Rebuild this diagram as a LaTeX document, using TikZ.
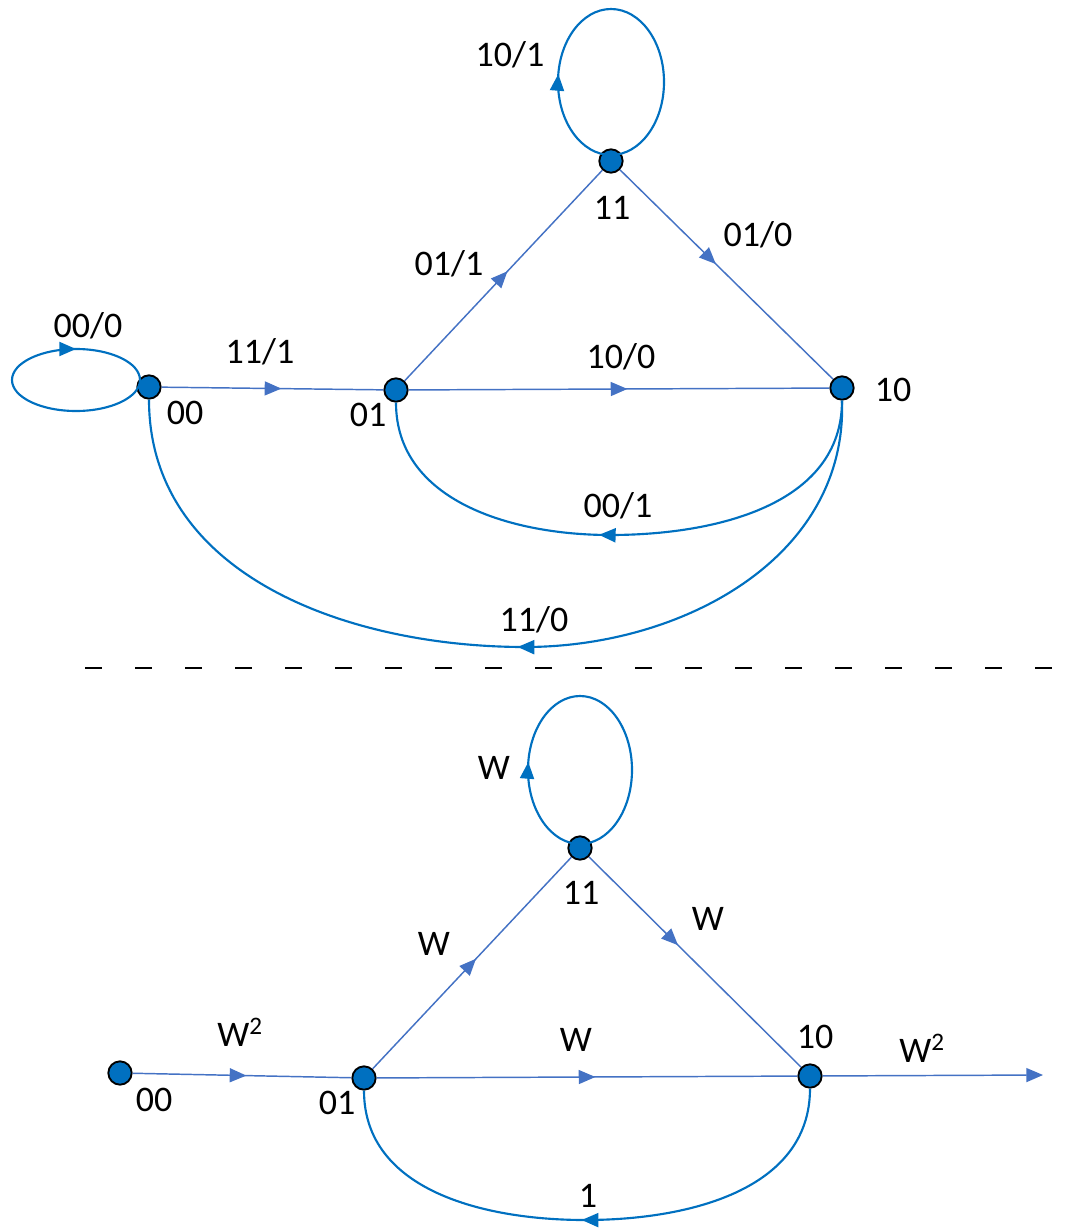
\documentclass[tikz,border=0pt]{standalone}
\usepackage{fontspec}
\setmainfont{Carlito}
\usepackage{tikz}
\usetikzlibrary{arrows.meta,decorations.markings,calc}
\definecolor{curveblue}{RGB}{0,112,192}
\definecolor{lineblue}{RGB}{68,114,196}

\tikzset{
  state/.style={circle,draw=black,line width=1.4pt,fill=curveblue,inner sep=0pt,minimum size=17.5pt},
  lbl/.style={black,font=\fontsize{27}{32}\selectfont,inner sep=0pt},
  edge/.style={lineblue,line width=1.1pt},
  curve/.style={curveblue,line width=1.6pt},
  midarrow/.style={postaction={decorate},decoration={markings,
    mark=at position #1 with {\arrow{Triangle[length=12.5pt,width=10.5pt]}}}},
  midarrow/.default=0.5
}

\begin{document}
\begin{tikzpicture}[x=0.75pt,y=-0.75pt]
  \useasboundingbox (0,0) rectangle (1070,1232);

  % upper diagram: states and outputs
  \node[state] (a00) at (149,387) {};
  \node[state] (a01) at (396,390) {};
  \node[state] (a11) at (611,161) {};
  \node[state] (a10) at (842,388) {};
  \node[lbl] at (185,413) {00};
  \node[lbl] at (368,415) {01};
  \node[lbl] at (612,208) {11};
  \node[lbl] at (893,390) {10};

  \draw[curve,midarrow=0.75] (76,380) ellipse [x radius=64,y radius=31];
  \node[lbl] at (88,326) {00/0};
  \draw[curve,midarrow=0.52] (611,82) ellipse [x radius=53,y radius=73];
  \node[lbl] at (510,55) {10/1};

  \draw[edge,midarrow=0.54] (a00) -- (a01);
  \node[lbl] at (260,352) {11/1};
  \draw[edge,midarrow=0.52] (a01) -- (a11);
  \node[lbl] at (449,264) {01/1};
  \draw[edge,midarrow=0.45] (a11) -- (a10);
  \node[lbl] at (758,235) {01/0};
  \draw[edge,midarrow=0.52] (a01) -- (a10);
  \node[lbl] at (621,357) {10/0};

  \coordinate (c1) at (610,535);
  \draw[curve,midarrow=0.535] (a10.south) to[out=-90,in=0] (c1) to[out=180,in=-90] (a01.south);
  \node[lbl] at (618,506) {00/1};
  \coordinate (c2) at (525,647);
  \draw[curve,midarrow=0.48] (a10.south) to[out=-88,in=0] (c2) to[out=180,in=-90] (a00.south);
  \node[lbl] at (534,620) {11/0};

  % separator
  \draw[black,line width=2.2pt,dash pattern=on 13 off 24.5] (85,668) -- (1070,668);

  % lower diagram: path weights
  \node[state] (b00) at (120,1073) {};
  \node[state] (b01) at (364,1078) {};
  \node[state] (b11) at (580,848) {};
  \node[state] (b10) at (810,1076) {};
  \node[lbl] at (154,1100) {00};
  \node[lbl] at (337,1103) {01};
  \node[lbl] at (581,893) {11};
  \node[lbl] at (815,1037) {10};

  \draw[curve,midarrow=0.52] (580,770) ellipse [x radius=52,y radius=74];
  \node[lbl] at (494,768) {W};

  \draw[edge,midarrow=0.52] (b00) -- (b01);
  \node[lbl] at (240,1032) {W\textsuperscript{2}};
  \draw[edge,midarrow=0.52] (b01) -- (b11);
  \node[lbl] at (434,944) {W};
  \draw[edge,midarrow=0.42] (b11) -- (b10);
  \node[lbl] at (708,919) {W};
  \draw[edge,midarrow=0.52] (b01) -- (b10);
  \node[lbl] at (576,1040) {W};
  \coordinate (bout) at (1043,1075);
  \draw[edge,-{Triangle[length=12.5pt,width=10.5pt]}] (b10) -- (bout);
  \node[lbl] at (922,1048) {W\textsuperscript{2}};

  \coordinate (c3) at (585,1220);
  \draw[curve,midarrow=0.51] (b10.south) to[out=-90,in=0] (c3) to[out=180,in=-90] (b01.south);
  \node[lbl] at (588,1196) {1};
\end{tikzpicture}
\end{document}
